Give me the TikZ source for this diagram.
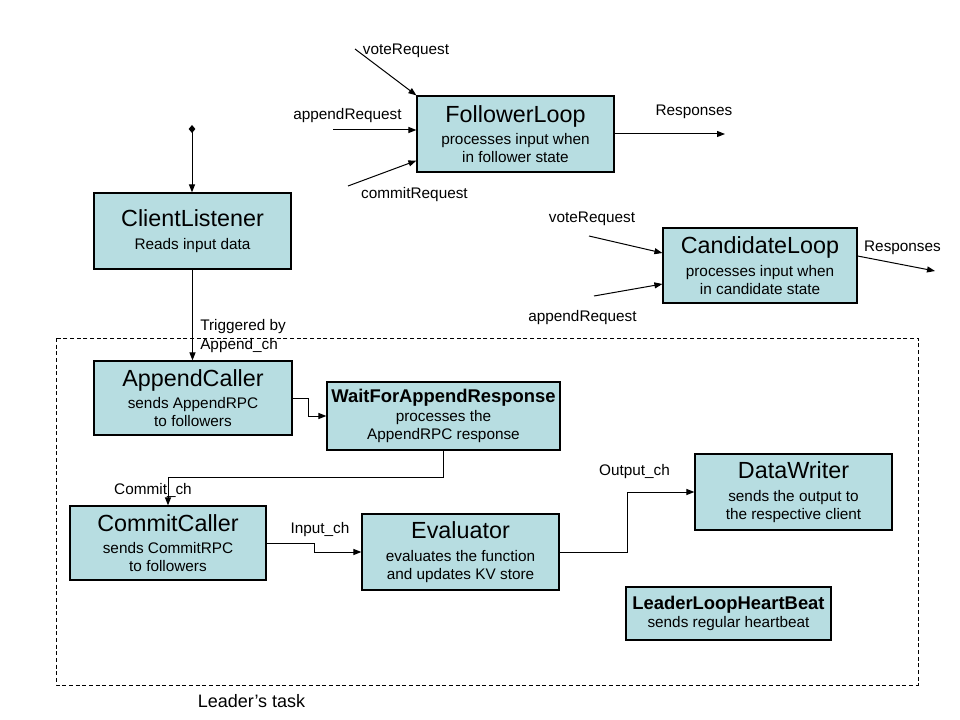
\documentclass[tikz,border=0pt]{standalone}
\usepackage{fontspec}
\setmainfont{Liberation Sans}
\usetikzlibrary{arrows.meta,calc}
\definecolor{boxc}{RGB}{183,221,225}
\tikzset{
  x=0.75pt, y=-0.75pt,
  box/.style={draw, fill=boxc, line width=0.9pt, inner sep=0pt, align=center,
    font=\fontsize{11.5}{13.5}\selectfont},
  wh/.style 2 args={minimum width=#1*0.75pt, minimum height=#2*0.75pt},
  lbl/.style={inner sep=0pt, anchor=base, font=\fontsize{11.5}{14}\selectfont},
  arr/.style={line width=0.75pt, -{Triangle[length=6pt,width=4.5pt]}},
}
\newcommand{\ttl}[1]{{\fontsize{17.5}{18}\selectfont #1}\\[3.5pt]}
\newcommand{\btl}[1]{{\fontsize{13.8}{14}\selectfont\bfseries #1}\\[0.5pt]}
\begin{document}
\begin{tikzpicture}
\useasboundingbox (0,0) rectangle (960,720);
% leader area
\draw[line width=0.6pt, dash pattern=on 3pt off 2pt] (56,338) rectangle (918,685);
\node[inner sep=0pt, anchor=base, font=\fontsize{13.5}{15}\selectfont] (lt) at (251.5,707) {Leader’s task};

% boxes
\node[box, wh={197}{76}] (FL) at (515.5,134) {\ttl{FollowerLoop}processes input when\\in follower state};
\node[box, wh={194}{75}] (CL) at (760,265.5) {\ttl{CandidateLoop}processes input when\\in candidate state};
\node[box, wh={197}{76}] (ClientL) at (192.5,231) {\ttl{ClientListener}Reads input data};
\node[box, wh={198}{74}] (AppendC) at (193,398) {\ttl{AppendCaller}sends AppendRPC\\to followers};
\node[box, wh={233}{68}] (Wait) at (443.5,416) {\btl{WaitForAppendResponse}processes the\\AppendRPC response};
\node[box, wh={196}{74}] (CommitC) at (168,543) {\ttl{CommitCaller}sends CommitRPC\\to followers};
\node[box, wh={197}{76}] (Eval) at (460.5,552) {\ttl{Evaluator}evaluates the function\\and updates KV store};
\node[box, wh={197}{76}] (DataW) at (793.5,492) {\ttl{DataWriter}sends the output to\\the respective client};
\node[box, wh={205}{53}] (LLHB) at (728.5,613.5) {\btl{LeaderLoopHeartBeat}sends regular heartbeat};

% free ends
\coordinate (clin) at (192,125);
\coordinate (fv) at (355,49);
\coordinate (fa) at (333,130);
\coordinate (fc) at (348,186);
\coordinate (fr) at (725,134);
\coordinate (cv) at (589,236);
\coordinate (ca) at (594,296);
\coordinate (cr) at (935,271);

% follower loop
\draw[arr] (fv) -- (FL.north west);
\draw[arr] (fa) -- (fa -| FL.west);
\draw[arr] (fc) -- ($(FL.south west)+(0,-12)$);
\draw[arr] (FL.east) -- (fr);
\node[lbl] (l1) at (406,55) {voteRequest};
\node[lbl] (l2) at (347.5,120) {appendRequest};
\node[lbl] (l3) at (414.5,199) {commitRequest};
\node[lbl] (l4) at (694,116) {Responses};

% candidate loop
\draw[arr] (cv) -- ($(CL.west)+(0,-12.5)$);
\draw[arr] (ca) -- ($(CL.west)+(0,18.5)$);
\draw[arr] ($(CL.east)+(0,-9.5)$) -- (cr);
\node[lbl] (l5) at (592,223) {voteRequest};
\node[lbl] (l6) at (582.5,321) {appendRequest};
\node[lbl] (l7) at (902.5,252) {Responses};

% client listener chain
\draw[line width=0.75pt, {Diamond[length=6pt,width=5pt]}-{Triangle[length=6pt,width=4.5pt]}] (clin) -- (clin |- ClientL.north);
\draw[arr] (ClientL.south) -- (ClientL.south |- AppendC.north);
\node[inner sep=0pt, anchor=west, align=left, font=\fontsize{11.5}{14.3}\selectfont] (l8) at (200,336) {Triggered by\\Append\_ch};

\draw[arr] (AppendC.east) -- ++(16,0) |- (Wait.west);
\draw[arr] (Wait.south) -- ++(0,27) -| (CommitC.north);
\node[lbl] (l9) at (153,494) {Commit\_ch};
\draw[arr] (CommitC.east) -- ++(48,0) |- (Eval.west);
\node[lbl] (l10) at (320,533) {Input\_ch};
\draw[arr] (Eval.east) -- ++(68,0) |- (DataW.west);
\node[lbl] (l11) at (634.5,475) {Output\_ch};
\end{tikzpicture}
\end{document}
